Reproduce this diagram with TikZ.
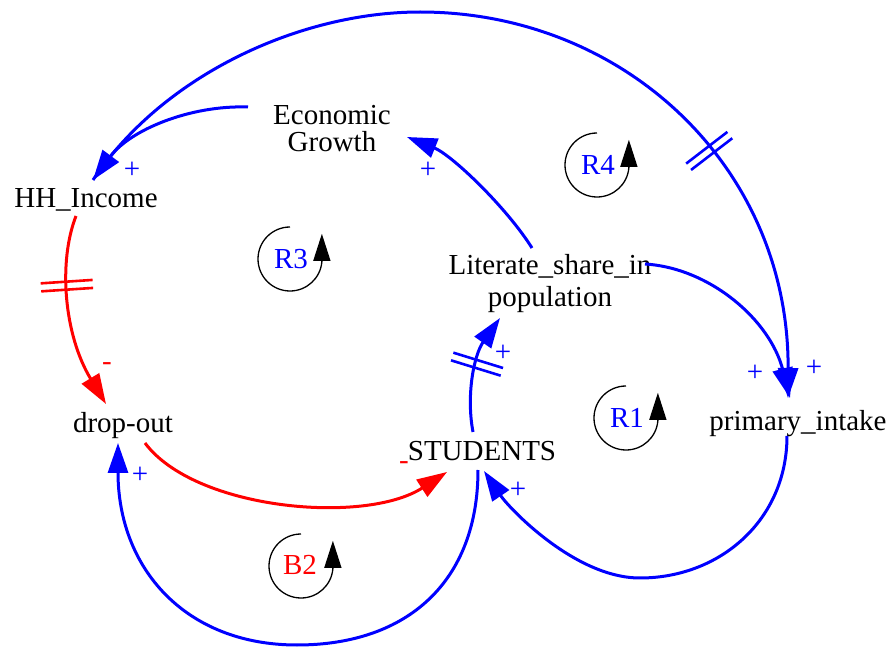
\documentclass[tikz,border=0pt]{standalone}
\usepackage{fontspec}
\setmainfont{Liberation Serif}
\newfontfamily\vserif{Liberation Serif}
\usetikzlibrary{arrows.meta,decorations.markings}
\begin{document}
\begin{tikzpicture}[x=0.5pt,y=-0.5pt,
  var/.style={font=\vserif\fontsize{14.5}{13.5}\selectfont, inner sep=0pt, text=black},
  pol/.style={font=\vserif\fontsize{14.5}{14.5}\selectfont, inner sep=0pt},
  link/.style={line width=1.5pt, -{Triangle[length=15pt,width=10pt]}},
  bl/.style={link, color=blue},
  rd/.style={link, color=red},
  loopsym/.style={color=black, line width=0.65pt, -{Triangle[length=13.5pt,width=8.5pt]}},
  delaymark/.style={postaction={decorate,decoration={markings,
     mark=at position #1 with {\draw[line width=1.3pt,-] (-2pt,-13pt) -- (-2pt,13pt) (2pt,-13pt) -- (2pt,13pt);}}}}
]
\useasboundingbox (0,0) rectangle (891,647);

% variables
\node[var,anchor=base] (hh) at (86,208) {HH\_Income};
\node[var,align=center] (eg) at (332,128.5) {Economic\\Growth};
\node[var,align=center,font=\vserif\fontsize{14.5}{16}\selectfont] (lit) at (550,284) {Literate\_share\_in\\population};
\node[var,anchor=base] (drop) at (123,433) {drop-out};
\node[var,anchor=base] (stu) at (482,460) {STUDENTS};
\node[var,anchor=base] (pi) at (798,430) {primary\_intake};

\coordinate (arctop) at (420,12);
\coordinate (bottomL) at (297,645);
\coordinate (bottomR) at (640,578);

% links
\draw[bl] ([shift={(-84,-21.5)}]eg.center) .. controls +(-58,-2) and +(37,-50) .. ([shift={(7,-28)}]hh.base);
\draw[bl, delaymark=0.73] ([shift={(7,-28)}]hh.base) .. controls +(70,-105) and +(-120,0) .. (arctop)
      .. controls +(205,0) and +(1,-230) .. ([shift={(-10,-32)}]pi.base);
\draw[bl] ([shift={(-18,-36)}]lit.center) .. controls +(-25,-40) and +(45,18) .. ([shift={(75,8.5)}]eg.center);
\draw[bl] ([shift={(95,-20)}]lit.center) .. controls +(65,4) and +(-20,-78) .. ([shift={(-8,-32)}]pi.base);
\draw[rd, delaymark=0.36] ([shift={(-10,8)}]hh.base) .. controls +(-18,46) and +(-42,-69) .. ([shift={(-17,-29)}]drop.base);
\draw[rd] ([shift={(22,10)}]drop.base) .. controls +(50,67) and +(-82,53) .. ([shift={(-35,12)}]stu.base);
\draw[bl] ([shift={(-4,10)}]stu.base) .. controls +(0,110) and +(112,0) .. (bottomL)
      .. controls +(-112,0) and +(0,125) .. ([shift={(-5,10)}]drop.base);
\draw[bl] ([shift={(-11,6)}]pi.base) .. controls +(0,84) and +(80,0) .. (bottomR)
      .. controls +(-65,0) and +(25,37) .. ([shift={(2,11)}]stu.base);
\draw[bl, delaymark=0.57] ([shift={(-9,-28)}]stu.base) .. controls +(-7,-37) and +(-26,37) .. ([shift={(-50,34)}]lit.center);

% polarities
\node[pol,text=blue] (p1) at (132,170) {+};
\node[pol,text=blue] (p2) at (428,170) {+};
\node[pol,text=blue] (p3) at (814,368) {+};
\node[pol,text=blue] (p4) at (755,373) {+};
\node[pol,text=red]  (m1) at (107,367) {-};
\node[pol,text=red]  (m2) at (404,466) {-};
\node[pol,text=blue] (p5) at (140,475) {+};
\node[pol,text=blue] (p6) at (518,490) {+};
\node[pol,text=blue] (p7) at (503,353) {+};

% loop symbols
\node[var,text=blue] (r3) at (291,259) {R3};
\draw[loopsym] ([shift={(-1,-32)}]r3.center) arc[start angle=-90,end angle=-355,radius=32] -- ++(0,-28);
\node[var,text=blue] (r4) at (598,165) {R4};
\draw[loopsym] ([shift={(-1,-32)}]r4.center) arc[start angle=-90,end angle=-355,radius=32] -- ++(0,-28);
\node[var,text=blue] (r1) at (627,418) {R1};
\draw[loopsym] ([shift={(-1,-32)}]r1.center) arc[start angle=-90,end angle=-355,radius=32] -- ++(0,-28);
\node[var,text=red] (b2) at (300,565) {B2};
\draw[loopsym] ([shift={(1,-31)}]b2.center) arc[start angle=-90,end angle=-355,radius=32] -- ++(0,-28);
\end{tikzpicture}
\end{document}
